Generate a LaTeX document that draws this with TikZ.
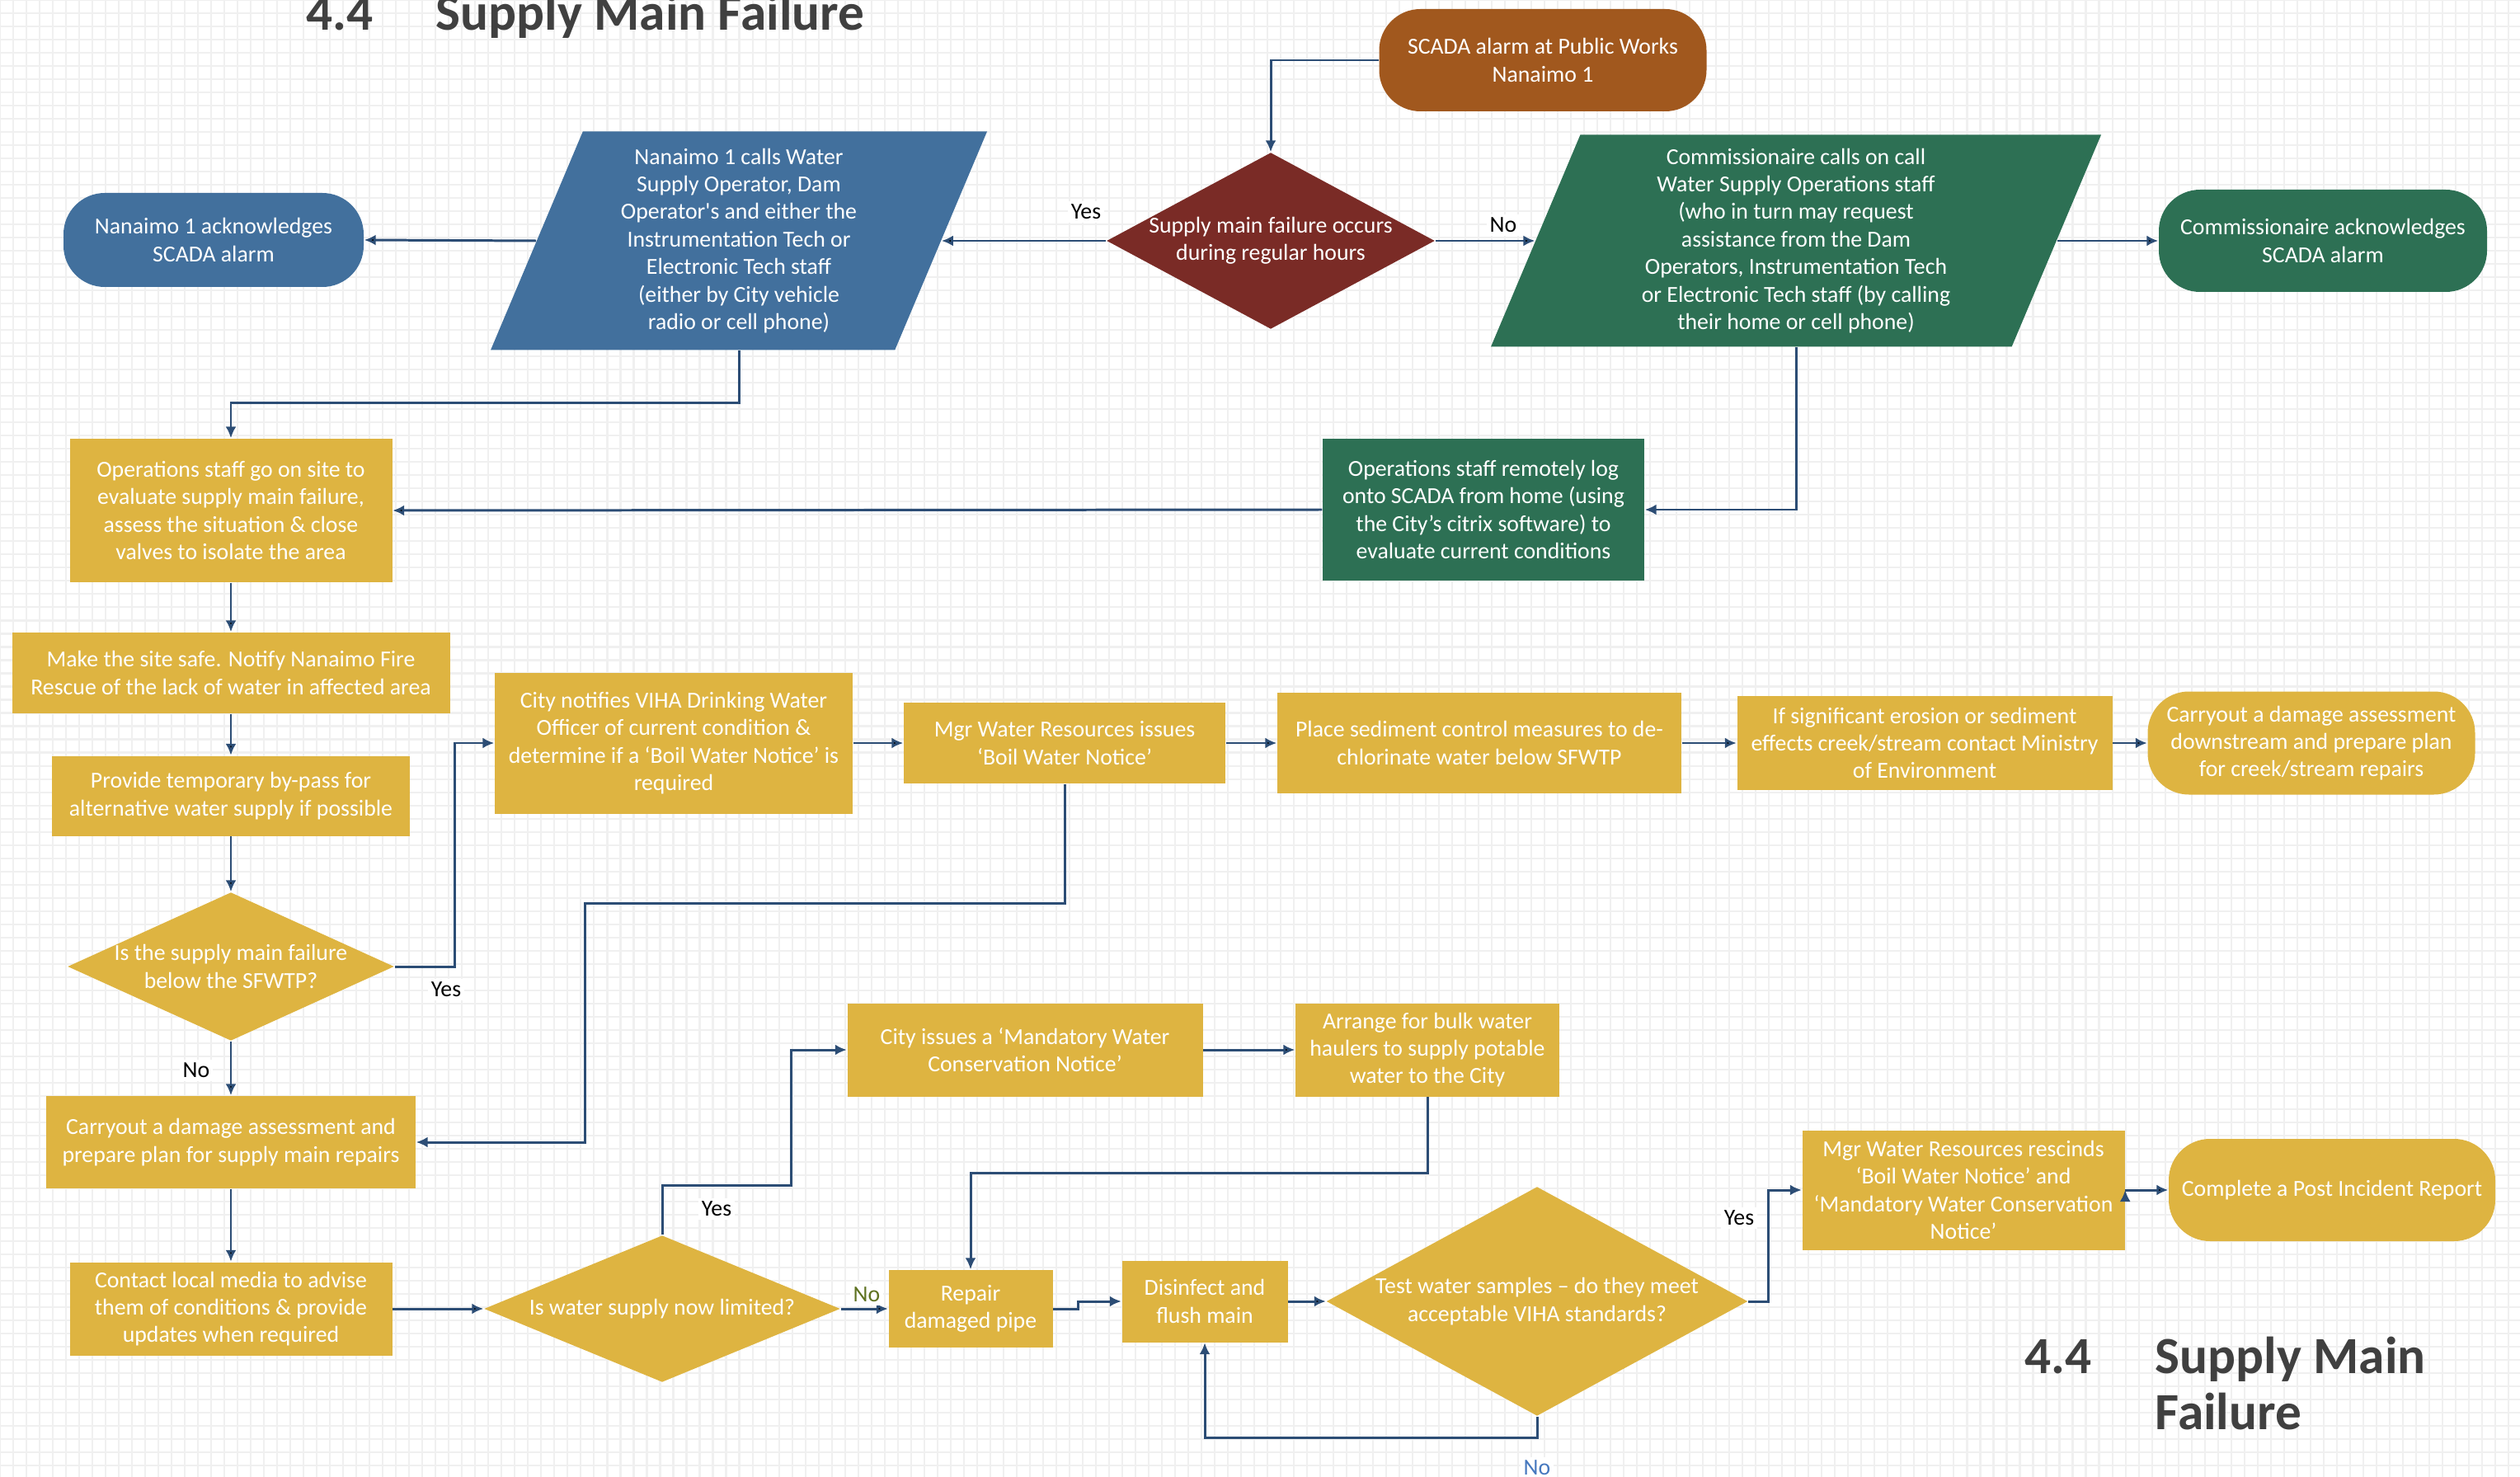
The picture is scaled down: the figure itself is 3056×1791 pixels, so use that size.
\documentclass[tikz,border=0pt]{standalone}
\usepackage{fontspec}
\setmainfont{Carlito}
\usepackage{tikz}
\usetikzlibrary{shapes.geometric,arrows.meta,positioning}
\definecolor{ochre}{RGB}{222,180,65}
\definecolor{rust}{RGB}{161,88,30}
\definecolor{maroon}{RGB}{122,43,38}
\definecolor{steel}{RGB}{66,112,157}
\definecolor{pine}{RGB}{45,112,84}
\definecolor{flowblue}{RGB}{44,77,117}
\definecolor{headgray}{RGB}{64,64,64}
\definecolor{nogreen}{RGB}{94,114,33}
\definecolor{noblue}{RGB}{70,120,190}
\newcommand{\flowfont}{\fontsize{7.9}{9.5}\selectfont}
\newcommand{\headfont}{\fontsize{18}{19.3}\selectfont\bfseries}
\tikzset{dims/.style 2 args={minimum width=#1*0.01cm, minimum height=#2*0.01cm}}
\tikzstyle{task}=[rectangle, fill=ochre, text=white, align=center, inner sep=0pt, font=\flowfont]
\tikzstyle{terminal}=[task, rounded corners=0.5cm]
\tikzstyle{decision}=[diamond, fill=ochre, text=white, align=center, inner xsep=-6pt, inner ysep=-3pt, font=\flowfont]
\tikzstyle{io}=[trapezium, trapezium stretches body, text=white, align=center, inner sep=0pt, font=\flowfont]
\tikzstyle{flow}=[draw=flowblue, line width=0.85pt, -{Latex[length=1.4mm,width=1.3mm]}]
\tikzstyle{answer}=[fill=white, inner sep=1pt, font=\flowfont]
\tikzstyle{headline}=[font=\headfont, text=headgray, inner sep=0pt]
\tikzstyle{gridline}=[draw=black!6, line width=0.6pt]

\begin{document}
\begin{tikzpicture}[x=0.01cm,y=-0.01cm]
\useasboundingbox (0,0) rectangle (3056,1791);
\draw[gridline, step=0.16cm] (0,0) grid (3056,1791);

\node[headline, anchor=base west] (num) at (371,37) {4.4};
\node[headline, anchor=base west] (head) at (528,37) {Supply Main Failure};

\node[terminal, fill=rust, dims={397}{124}] (scada) at (1871,73) {SCADA alarm at Public Works\\Nanaimo 1};
\node[decision, fill=maroon, dims={398}{214}, shape aspect=1.86] (dreg) at (1541,292) {Supply main failure occurs\\during regular hours};
\node[io, fill=steel, dims={602}{265}, trapezium left angle=63.5, trapezium right angle=116.5] (ncall) at (896,292) {Nanaimo 1 calls  Water\\Supply Operator, Dam\\Operator\textquotesingle s and either the\\Instrumentation Tech or\\Electronic Tech staff\\(either by City vehicle\\radio or cell phone)};
\node[terminal, fill=steel, dims={364}{114}] (nack) at (259,291) {Nanaimo 1 acknowledges\\SCADA alarm};
\node[io, fill=pine, dims={740}{257}, trapezium left angle=64.2, trapezium right angle=115.8] (ccall) at (2178,292) {Commissionaire calls on call\\Water Supply Operations staff\\(who in turn may request\\assistance from the Dam\\Operators, Instrumentation Tech\\or Electronic Tech staff (by calling\\their home or cell phone)};
\node[terminal, fill=pine, dims={398}{124}] (cack) at (2817,292) {Commissionaire acknowledges\\SCADA alarm};

\node[task, dims={391}{174}] (onsite) at (280,619) {Operations staff  go on site to\\evaluate supply main failure,\\assess the situation \& close\\valves to isolate the area};
\node[task, fill=pine, dims={390}{172}] (remote) at (1799,618) {Operations staff remotely log\\onto SCADA from home (using\\the City’s citrix software) to\\evaluate current conditions};
\node[task, dims={531}{98}] (safe) at (280,816) {Make the site safe. Notify Nanaimo Fire\\Rescue of the lack of water in affected area};
\node[task, dims={434}{97}] (bypass) at (280,965) {Provide temporary by-pass for\\alternative water supply if possible};
\node[task, dims={434}{171}] (viha) at (817,901) {City  notifies VIHA Drinking Water\\Officer of current condition \&\\determine if a ‘Boil Water Notice’ is\\required};
\node[task, dims={390}{98}] (bwn) at (1291,901) {Mgr Water Resources issues\\‘Boil Water Notice’};
\node[task, dims={490}{122}] (sed) at (1794,901) {Place sediment control measures to de-\\chlorinate water below SFWTP};
\node[task, dims={455}{114}] (moe) at (2334,901) {If significant erosion or sediment\\effects creek/stream contact Ministry\\of Environment};
\node[terminal, dims={397}{125}] (creek) at (2803,901) {Carryout a damage assessment\\downstream and prepare plan\\for creek/stream repairs};

\node[decision, dims={396}{180}, shape aspect=2.2] (below) at (280,1172) {Is the supply main failure\\below the SFWTP?};
\node[task, dims={448}{112}] (assess) at (280,1385) {Carryout a damage assessment and\\prepare plan for supply main repairs};
\node[task, dims={391}{113}] (media) at (280,1587) {Contact local media to advise\\them of conditions \& provide\\updates when required};
\node[decision, dims={432}{178}, shape aspect=2.43] (limited) at (803,1587) {Is water supply now limited?};
\node[task, dims={199}{94}] (repair) at (1177,1587) {Repair\\damaged pipe};
\node[task, dims={431}{113}] (mwcn) at (1243,1273) {City issues a ‘Mandatory Water\\Conservation Notice’};
\node[task, dims={320}{113}] (haul) at (1731,1273) {Arrange for bulk water\\haulers to supply potable\\water to the City};
\node[task, dims={201}{99}] (flush) at (1461,1578) {Disinfect and\\flush main};
\node[decision, dims={511}{278}, shape aspect=1.84] (test) at (1864,1578) {Test water samples – do they meet\\acceptable VIHA standards?};
\node[task, dims={391}{145}] (rescind) at (2381,1443) {Mgr Water Resources rescinds\\‘Boil Water Notice’ and\\‘Mandatory Water Conservation\\Notice’};
\node[terminal, dims={396}{124}] (report) at (2828,1443) {Complete a Post  Incident Report};

\node[headline, anchor=base west] (numb) at (2455,1665) {4.4};
\node[headline, anchor=base west, align=left] (headb) at (2613,1733) {Supply Main\\Failure};

\path[flow]
    (dreg.west) edge (ncall.right side)
    (dreg.east) edge (ccall.left side)
    (ncall.left side) edge (nack.east)
    (ccall.right side) edge (cack.west)
    (remote.west) edge (onsite.east)
    (onsite.south) edge (safe.north)
    (safe.south) edge (bypass.north)
    (bypass.south) edge (below.north)
    (below.south) edge (assess.north)
    (assess.south) edge (media.north)
    (viha.east) edge (bwn.west)
    (bwn.east) edge (sed.west)
    (sed.east) edge (moe.west)
    (moe.east) edge (creek.west)
    (media.east) edge (limited.west)
    (limited.east) edge (repair.west)
    (mwcn.east) edge (haul.west)
    (flush.east) edge (test.west)
    (rescind.east) edge (report.west)
;
\draw[flow] (scada.west) -| (dreg.north);
\draw[flow] (ncall.south) -- ++(0,63) -| (onsite.north);
\draw[flow] (ccall.south) |- (remote.east);
\draw[flow] (below.east) -- ++(73,0) |- (viha.west);
\draw[flow] (bwn.south) |- (709,1095) |- (assess.east);
\draw[flow] (limited.north) |- (959,1437) |- (mwcn.west);
\draw[flow] (haul.south) -- ++(0,92) -| (repair.north);
\draw[flow] (repair.east) -- ++(30,0) |- (flush.west);
\draw[flow] (test.south) -- ++(0,26) -| (flush.south);
\draw[flow] (test.east) -- ++(24,0) |- (rescind.west);

\node[answer] (yes1) at (1317,257) {Yes};
\node[answer] (no1) at (1823,273) {No};
\node[answer] (yes2) at (541,1200) {Yes};
\node[answer] (no2) at (238,1298) {No};
\node[answer] (yes3) at (869,1466) {Yes};
\node[answer, text=nogreen] (no3) at (1051,1570) {No};
\node[answer, text=noblue] (no4) at (1864,1780) {No};
\node[answer] (yes4) at (2109,1477) {Yes};
\end{tikzpicture}
\end{document}
